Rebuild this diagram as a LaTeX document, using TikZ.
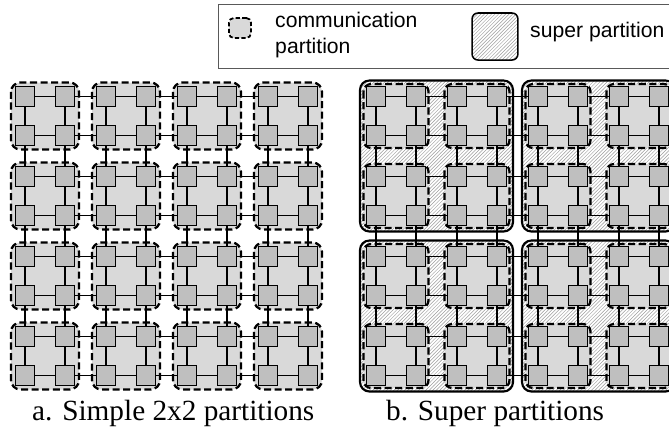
\documentclass[tikz,border=0pt]{standalone}
\usepackage{fontspec}
\setmainfont{Liberation Serif}
\newfontfamily\legfont{Liberation Sans}
\usetikzlibrary{patterns}
\definecolor{routergray}{gray}{0.75}
\definecolor{partgray}{gray}{0.85}

\begin{document}
\begin{tikzpicture}[x=0.8507pt, y=-0.8507pt,
  router/.style={draw, fill=routergray, line width=0.9pt, minimum size=16.6pt, inner sep=0pt},
  link/.style={line width=1.1pt},
  commpart/.style={draw, fill=partgray, dash pattern=on 6pt off 3pt, line width=1.9pt, rounded corners=8pt},
  superpart/.style={draw, line width=1.8pt, rounded corners=8pt, preaction={fill=white},
                    pattern=north east lines, pattern color=black!38},
  legtext/.style={font=\legfont\fontsize{18}{22}\selectfont, align=left, inner sep=0pt},
  capt/.style={font=\fontsize{24.9}{28}\selectfont, inner sep=0pt}]
\useasboundingbox (0,0) rectangle (669,428);
\fill[white] (0,0) rectangle (669,428);
\clip (0,0) rectangle (669,428);

\draw[black!65, line width=0.8pt] (218,4) rectangle (675,68);
\node[commpart, rounded corners=4pt, line width=1.5pt, dash pattern=on 3.5pt off 2pt,
      minimum width=18.7pt, minimum height=17pt, inner sep=0pt] (icomm) at (240,28) {};
\node[legtext, anchor=west] (tcomm) at (275,35) {communication\\partition};
\node[superpart, line width=1.3pt, rounded corners=5pt, minimum width=39pt,
      minimum height=40pt, inner sep=0pt] (isuper) at (495,36.5) {};
\node[legtext, anchor=base west] (tsuper) at (530,37) {super partition};

\foreach \p in {0,...,3}{
  \foreach \q in {0,...,3}{
    \draw[commpart] ({11+81*\p},{82.5+80*\q}) rectangle ({79+81*\p},{149.5+80*\q});
  }
}

\foreach \p in {0,1}{
  \foreach \q in {0,1}{
    \draw[superpart] ({360+162*\p},{80.5+160*\q}) rectangle ({513+162*\p},{231.5+160*\q});
  }
}
\foreach \p in {0,...,3}{
  \foreach \q in {0,...,3}{
    \draw[commpart, rounded corners=6.5pt] ({363.5+81*\p},{84+80*\q}) rectangle ({428.5+81*\p},{148+80*\q});
  }
}

\foreach \r in {0,...,7}{
  \foreach \c in {0,...,7}{
    \pgfmathsetmacro\xa{25+81*int(\c/2)+40*mod(\c,2)}
    \pgfmathsetmacro\xb{\xa+351}
    \pgfmathsetmacro\yy{96.5+80*int(\r/2)+39*mod(\r,2)}
    \node[router] (L-\r-\c) at (\xa,\yy) {};
    \node[router] (R-\r-\c) at (\xb,\yy) {};
  }
}

\foreach \r in {0,...,7}{
  \foreach \c [evaluate=\c as \n using int(\c+1)] in {0,...,6}{
    \draw[link] (L-\r-\c) -- (L-\r-\n);
    \draw[link] (R-\r-\c) -- (R-\r-\n);
    \draw[link] (L-\c-\r) -- (L-\n-\r);
    \draw[link] (R-\c-\r) -- (R-\n-\r);
  }
}

\node[capt, anchor=base west] (capa) at (32,420) {a. Simple 2x2 partitions};
\node[capt, anchor=base west] (capb) at (386,420) {b. Super partitions};
\end{tikzpicture}
\end{document}
